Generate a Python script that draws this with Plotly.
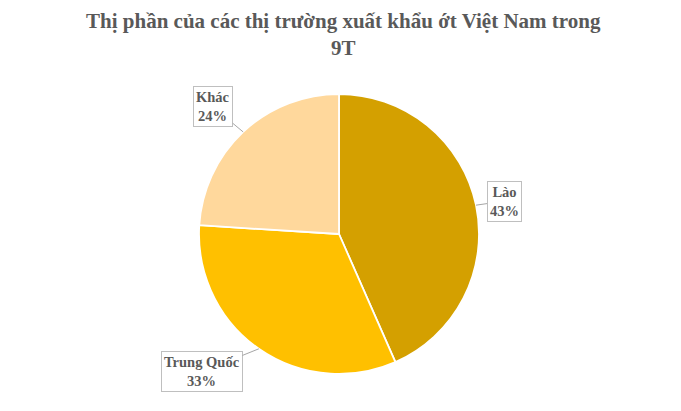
import math
import plotly.graph_objects as go

OFF = 8  # default page body margin of the HTML page
W, H = 681 - OFF, 411 - OFF
labels = ["Lào", "Trung Quốc", "Khác"]
values = [43.4, 32.6, 24.0]
colors = ["#D4A000", "#FFC000", "#FFD89C"]
label_offsets = [(28, -4), (-57, 23), (-30, -25)]  # pixel offsets of callout boxes

cx, cy, r = 339 - OFF, 234 - OFF, 140  # pie centre/radius in figure pixels

fig = go.Figure(go.Pie(
    labels=labels, values=values, sort=False, direction="clockwise", rotation=0,
    marker=dict(colors=colors, line=dict(color="white", width=1.8)),
    textinfo="none", hoverinfo="label+percent", showlegend=False,
    domain=dict(x=[(cx - r) / W, (cx + r) / W], y=[1 - (cy + r) / H, 1 - (cy - r) / H]),
))

total = sum(values)
cum = 0
annotations = []
for lab, v, (ox, oy) in zip(labels, values, label_offsets):
    mid = (cum + v / 2) / total * 2 * math.pi
    cum += v
    px = cx + r * math.sin(mid)
    py = cy - r * math.cos(mid)
    pct = round(v / total * 100)
    annotations.append(dict(
        x=px / W, y=1 - py / H, xref="paper", yref="paper",
        text=f"<b>{lab}<br>{pct}%</b>", showarrow=True, arrowhead=0,
        arrowcolor="#A6A6A6", arrowwidth=1, ax=ox, ay=oy, axref="pixel", ayref="pixel",
        font=dict(family="Liberation Serif", size=14.5, color="#595959"),
        bgcolor="white", bordercolor="#BFBFBF", borderwidth=1, borderpad=2,
        align="center",
    ))

annotations.append(dict(
    text="<b>Thị phần của các thị trường xuất khẩu ớt Việt Nam trong<br>9T</b>",
    x=0.5 - 1 / W, y=1, xref="paper", yref="paper",
    xanchor="center", yanchor="top", showarrow=False, align="center", borderpad=0,
    font=dict(family="Liberation Serif", size=21, color="#595959"),
))

fig.update_layout(
    width=W, height=H, margin=dict(l=0, r=0, t=0, b=0),
    paper_bgcolor="white", plot_bgcolor="white",
    annotations=annotations,
)
fig.write_html("out.html")
